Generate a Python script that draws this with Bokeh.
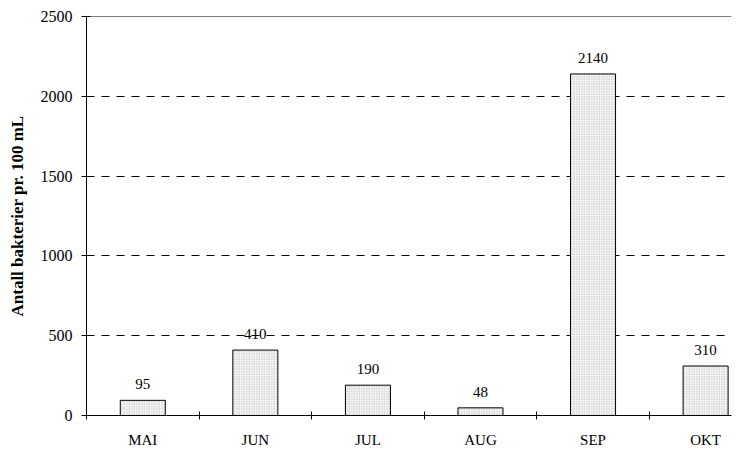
from bokeh.plotting import figure
from bokeh.models import (ColumnDataSource, FixedTicker, LabelSet, Range1d, Span, LinearAxis)
from bokeh.embed import file_html
from bokeh.resources import INLINE

months = ["MAI", "JUN", "JUL", "AUG", "SEP", "OKT"]
counts = [95, 410, 190, 48, 2140, 310]
y_ticks = [0, 500, 1000, 1500, 2000, 2500]
grid_ticks = [500, 1000, 1500, 2000]
y_title = "Antall bakterier pr. 100 mL"

xpos = [i + 0.5 for i in range(len(months))]
src = ColumnDataSource(dict(x=xpos, top=counts, label=[str(c) for c in counts]))

FONT = "Liberation Serif"

p = figure(width=751, height=450, output_backend="svg", toolbar_location=None,
           x_range=Range1d(0, 5.73), y_range=Range1d(y_ticks[0], y_ticks[-1]),
           min_border_left=86, min_border_right=20, min_border_top=16, min_border_bottom=35,
           x_axis_type=None)
p.outline_line_color = None
p.background_fill_color = None
p.border_fill_color = "white"

p.vbar(x="x", top="top", width=0.4, bottom=0, source=src,
       fill_color="#f5f5f5", line_color="black", line_width=1,
       hatch_pattern="dot", hatch_color="#b0b0b0", hatch_scale=2.5, hatch_weight=1)

labels = LabelSet(x="x", y="top", text="label", source=src, y_offset=11,
                  text_align="center", text_baseline="alphabetic",
                  text_font=FONT, text_font_size="15px", text_color="black")
p.add_layout(labels)

# x axis: labels at category centres, ticks at boundaries
xax = LinearAxis(ticker=FixedTicker(ticks=xpos, minor_ticks=list(range(len(months)))))
xax.major_label_overrides = {x: m for x, m in zip(xpos, months)}
xax.major_tick_in = 0
xax.major_tick_out = 0
xax.minor_tick_in = 4
xax.minor_tick_out = 4
xax.minor_tick_line_color = "black"
xax.axis_line_color = "black"
xax.major_label_standoff = 12
xax.major_label_text_font = FONT
xax.major_label_text_font_size = "15px"
xax.major_label_text_color = "black"
p.add_layout(xax, "below")

yax = p.yaxis[0]
yax.ticker = FixedTicker(ticks=y_ticks)
yax.minor_tick_line_color = None
yax.major_tick_in = 4
yax.major_tick_out = 5
yax.major_tick_line_color = "black"
yax.axis_line_color = "black"
yax.major_label_standoff = 9
yax.major_label_text_font = FONT
yax.major_label_text_font_size = "16px"
yax.major_label_text_color = "black"
yax.axis_label = y_title
yax.axis_label_text_font = FONT
yax.axis_label_text_font_style = "bold"
yax.axis_label_text_font_size = "17px"
yax.axis_label_text_color = "black"
yax.axis_label_standoff = 11

p.xgrid.visible = False
p.ygrid.ticker = FixedTicker(ticks=grid_ticks)
p.ygrid.grid_line_color = "black"
p.ygrid.grid_line_dash = "8 7"
p.ygrid.grid_line_width = 1

p.add_layout(Span(location=y_ticks[-1], dimension="width", line_color="black", line_width=1))

open("out.html", "w").write(file_html(p, INLINE))
